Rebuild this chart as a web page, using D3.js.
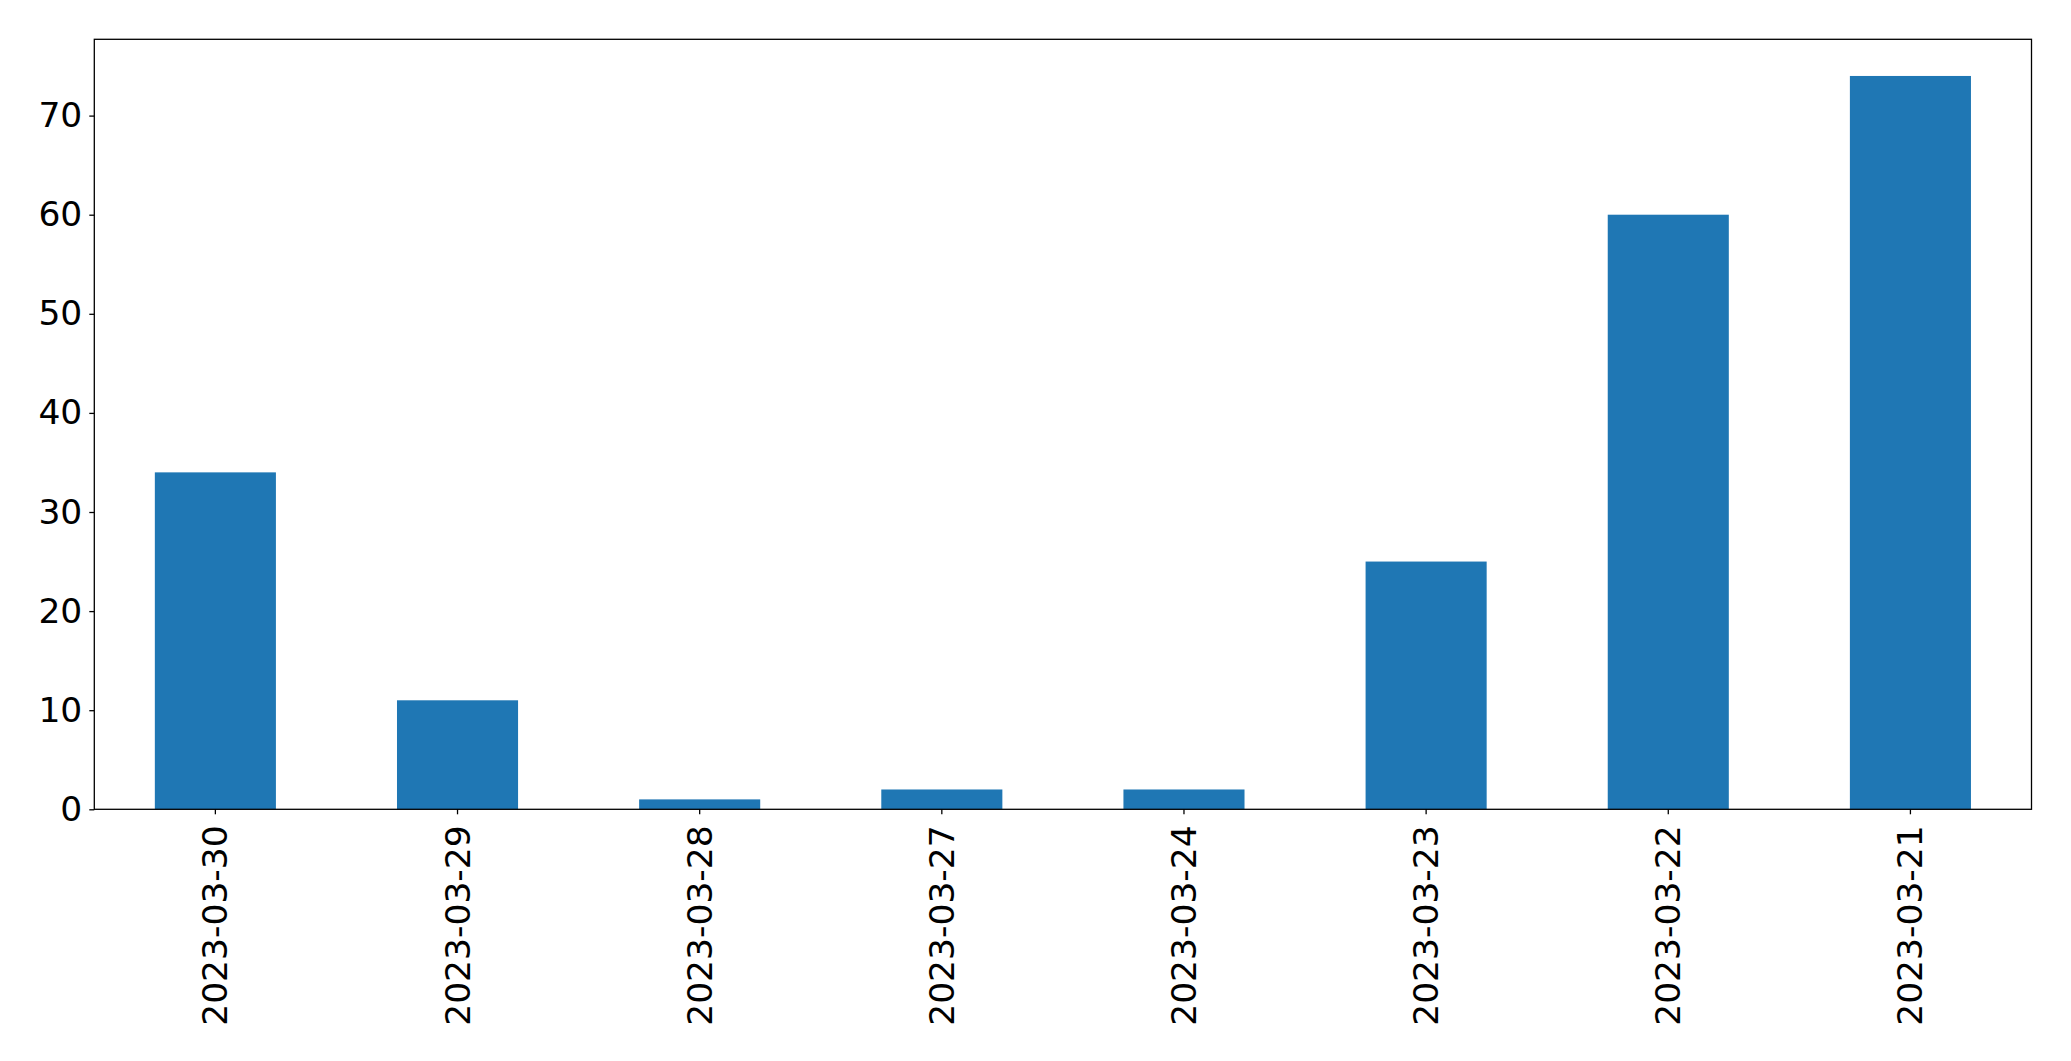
<!DOCTYPE html>
<html>
<head>
<meta charset="utf-8">
<script src="https://cdn.jsdelivr.net/npm/d3@7"></script>
<style>
html, body { margin: 0; padding: 0; background: #fff; }
svg { display: block; }
text { font-family: "DejaVu Sans", sans-serif; fill: #000; }
</style>
</head>
<body>
<script>
const categories = ["2023-03-30", "2023-03-29", "2023-03-28", "2023-03-27", "2023-03-24", "2023-03-23", "2023-03-22", "2023-03-21"];
const values = [34, 11, 1, 2, 2, 25, 60, 74];
const yTicks = [0, 10, 20, 30, 40, 50, 60, 70];

const W = 2071, H = 1061;
const m = { left: 94.3, right: 2031.5, top: 39.3, bottom: 809.3 };
const fontSize = 34.5;

const svg = d3.select("body").append("svg").attr("width", W).attr("height", H);

const x = d3.scaleBand().domain(categories).range([m.left, m.right]).paddingInner(0.5).paddingOuter(0.25);
const y = d3.scaleLinear().domain([0, d3.max(values) * 1.05]).range([m.bottom, m.top]);

svg.append("g").selectAll("rect").data(values).join("rect")
  .attr("x", (d, i) => x(categories[i]))
  .attr("width", x.bandwidth())
  .attr("y", d => y(d))
  .attr("height", d => y(0) - y(d))
  .attr("fill", "#1f77b4");

const yAxis = svg.append("g").attr("transform", `translate(${m.left},0)`)
  .call(d3.axisLeft(y).tickValues(yTicks).tickSize(5).tickPadding(7).tickFormat(d3.format("d")));
yAxis.select(".domain").remove();
yAxis.selectAll("line").attr("stroke", "#000").attr("stroke-width", 1.3);
yAxis.selectAll("text").attr("font-size", fontSize).attr("font-family", "DejaVu Sans").attr("fill", "#000");

const xAxis = svg.append("g").attr("transform", `translate(0,${m.bottom})`)
  .call(d3.axisBottom(x).tickSize(5).tickPadding(0));
xAxis.select(".domain").remove();
xAxis.selectAll("line").attr("stroke", "#000").attr("stroke-width", 1.3);
xAxis.selectAll("text")
  .attr("font-size", fontSize).attr("font-family", "DejaVu Sans").attr("fill", "#000")
  .attr("text-anchor", "end")
  .attr("dy", null).attr("y", 0)
  .attr("transform", "translate(0,16) rotate(-90)")
  .attr("dominant-baseline", "central");

svg.append("rect")
  .attr("x", m.left).attr("y", m.top)
  .attr("width", m.right - m.left).attr("height", m.bottom - m.top)
  .attr("fill", "none").attr("stroke", "#000").attr("stroke-width", 1.3);
</script>
</body>
</html>
